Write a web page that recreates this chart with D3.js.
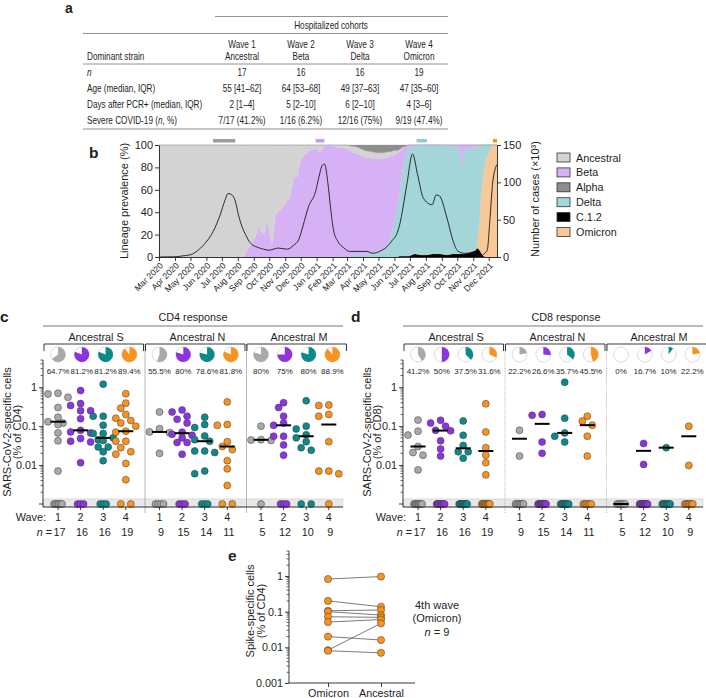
<!DOCTYPE html>
<html><head><meta charset="utf-8">
<script src="https://cdn.jsdelivr.net/npm/d3@7/dist/d3.min.js"></script>
<style>
html,body{margin:0;padding:0;background:#fff;}
text{font-family:"Liberation Sans",Arial,Helvetica,sans-serif;fill:#1e1e1e;}
</style></head><body>
<svg id="fig" width="706" height="698" xmlns="http://www.w3.org/2000/svg"></svg>
<script>
// ======================= DATA =======================
// ---- Panel a (table) ----
const tableColTop = ["Wave 1","Wave 2","Wave 3","Wave 4"];
const tableColBottom = ["Ancestral","Beta","Delta","Omicron"];
const rowN = ["17","16","16","19"];
const rowAge = ["55 [41–62]","64 [53–68]","49 [37–63]","47 [35–60]"];
const rowDays = ["2 [1–4]","5 [2–10]","6 [2–10]","4 [3–6]"];
const rowSevere = ["7/17 (41.2%)","1/16 (6.2%)","12/16 (75%)","9/19 (47.4%)"];

// ---- Panel b (lineage prevalence, %) ----
const prevDates = ["2020-03-01","2020-08-12","2020-08-19","2020-08-29","2020-09-06","2020-09-10","2020-09-16","2020-09-22","2020-09-27","2020-10-03",
"2020-10-07","2020-10-13","2020-10-22","2020-11-01","2020-11-11","2020-11-17","2020-11-25","2020-12-01","2020-12-10","2020-12-19",
"2020-12-30","2021-01-07","2021-01-15","2021-01-28","2021-02-11","2021-02-26","2021-03-10","2021-03-22","2021-04-04","2021-04-18",
"2021-04-30","2021-05-11","2021-05-19","2021-05-24","2021-05-30","2021-06-05","2021-06-11","2021-06-17","2021-06-23","2021-06-29",
"2021-07-10","2021-07-22","2021-08-03","2021-08-15","2021-08-28","2021-09-11","2021-09-23","2021-10-02","2021-10-08","2021-10-11",
"2021-10-14","2021-10-22","2021-10-29","2021-11-05","2021-11-08","2021-11-12","2021-11-16","2021-11-20","2021-11-26","2021-12-03",
"2021-12-11","2021-12-17"];
const pctAncestral = [100,100,94,87,80,73,78,80,67,82, 88,62,58,53,45,30,28,13,8,5, 3,7,1,0,2,3,5,6,6,6, 5,5,5,4,4,3,2,1,0,0, 0,0,0,0,0,0,0,0,0,0, 0,0,0,0,0,0,0,0,0,0, 0,0];
const pctBeta =      [0,0,6,13,20,27,22,20,33,18, 12,38,42,47,55,70,72,87,92,95, 97,93,99,100,98,97,93,90,87,85, 84,81,77,72,63,51,35,19,8,2, 1,0,0,0,0,1,1,2,7,20, 5,3,3,2,1,0,0,0,0,0, 0,0];
const pctAlpha =     [0,0,0,0,0,0,0,0,0,0, 0,0,0,0,0,0,0,0,0,0, 0,0,0,0,0,0,1,2,5,6, 7,7,6,6,5,5,4,2,1,0, 0,0,0,0,0,0,0,0,0,0, 0,0,0,0,0,0,0,0,0,0, 0,0];
const pctDelta =     [0,0,0,0,0,0,0,0,0,0, 0,0,0,0,0,0,0,0,0,0, 0,0,0,0,0,0,1,2,2,3, 4,7,12,18,28,41,58,77,90,97, 96,98,98,97,97,97,96,95,90,77, 92,93,92,92,91,73,46,27,12,4, 0,0];
const pctC12 =       [0,0,0,0,0,0,0,0,0,0, 0,0,0,0,0,0,0,0,0,0, 0,0,0,0,0,0,0,0,0,0, 0,0,0,0,0,0,1,1,1,1, 3,2,2,3,3,2,3,3,3,3, 3,4,5,6,8,7,4,1,0,0, 0,0];
const pctOmicron =   [0,0,0,0,0,0,0,0,0,0, 0,0,0,0,0,0,0,0,0,0, 0,0,0,0,0,0,0,0,0,0, 0,0,0,0,0,0,0,0,0,0, 0,0,0,0,0,0,0,0,0,0, 0,0,0,0,0,20,50,72,88,96, 100,100];

// weekly cases (x 10^3)
const caseDates = ["2020-03-01","2020-04-01","2020-04-16","2020-05-01","2020-05-13","2020-05-29","2020-06-14","2020-06-28","2020-07-07","2020-07-13",
"2020-07-21","2020-07-27","2020-08-02","2020-08-10","2020-08-16","2020-08-25","2020-09-08","2020-09-20","2020-09-30","2020-10-09",
"2020-10-18","2020-11-05","2020-11-17","2020-11-27","2020-12-06","2020-12-16","2020-12-30","2021-01-05","2021-01-12","2021-01-16",
"2021-01-24","2021-01-28","2021-02-03","2021-02-11","2021-02-23","2021-03-06","2021-04-08","2021-04-20","2021-05-03","2021-05-17",
"2021-05-28","2021-06-05","2021-06-11","2021-06-25","2021-07-06","2021-07-16","2021-07-27","2021-08-13","2021-08-21","2021-08-27",
"2021-09-11","2021-09-23","2021-10-02","2021-10-15","2021-10-29","2021-11-14","2021-11-28","2021-12-03","2021-12-09","2021-12-17"];
const casesK = [0,0.3,1.5,3,7.5,18,34,57,76,85, 83,75,57,39,30,19,13,10.5,9,10.5, 12,10.5,15.6,23,43,67,88,106,123,124.5, 92,66,35,21,12,7.5,7.5,5,7.5,13.5, 22.5,30,43,97,138,110,79,70,83,82, 52,21,8,5,5,1.5,9,48,102,124];

const lineageNames = ["Ancestral","Beta","Alpha","Delta","C.1.2","Omicron"];
const lineageColors = ["#d3d3d3","#d7b1f6","#8e8e8e","#a3d5d9","#000000","#f9c897"];
const stackOrder = ["C.1.2","Omicron","Delta","Beta","Ancestral","Alpha"];

// sampling windows (bars above the chart)
const sampleStart = ["2020-06-14","2020-12-30","2021-07-14","2021-12-09"];
const sampleEnd   = ["2020-07-27","2021-01-16","2021-08-03","2021-12-17"];
const sampleColors = ["#9c9c9c","#c99df3","#92cdd1","#f7931e"];

// ---- Panels c & d ----
const respGroups = ["Ancestral S","Ancestral N","Ancestral M"];
const waveNums = ["1","2","3","4"];
const waveColors = ["#a9a9a9","#8d34e0","#0b8a8a","#f7931e"];
const cohortN = [[17,16,16,19],[9,15,14,11],[5,12,10,9]];
const cd4PctLabels = [["64.7%","81.2%","81.2%","89.4%"],["55.5%","80%","78.6%","81.8%"],["80%","75%","80%","88.9%"]];
const cd8PctLabels = [["41.2%","50%","37.5%","31.6%"],["22.2%","26.6%","35.7%","45.5%"],["0%","16.7%","10%","22.2%"]];

const cd4S = [[0.70,0.67,0.55,0.30,0.17,0.13,0.12,0.11,0.067,0.042,0.007],
              [0.82,0.38,0.34,0.25,0.25,0.155,0.078,0.071,0.067,0.048,0.041,0.039,0.0115],
              [1.2,0.18,0.18,0.106,0.065,0.065,0.05,0.045,0.043,0.029,0.029,0.022,0.013],
              [0.68,0.39,0.29,0.20,0.16,0.14,0.12,0.10,0.074,0.07,0.041,0.041,0.028,0.022,0.019,0.011,0.0042]];
const cd4N = [[0.23,0.086,0.071,0.068,0.02],
              [0.26,0.23,0.18,0.15,0.12,0.07,0.062,0.058,0.05,0.038,0.038,0.019],
              [0.17,0.11,0.092,0.056,0.045,0.041,0.023,0.023,0.021,0.007,0.006],
              [0.42,0.11,0.105,0.04,0.03,0.025,0.013,0.008,0.003]];
const cd4M = [[0.1,0.045,0.044,0.043],
              [0.40,0.30,0.18,0.12,0.105,0.055,0.055,0.033,0.018],
              [0.45,0.1,0.085,0.06,0.05,0.04,0.028,0.024],
              [0.35,0.34,0.2,0.18,0.04,0.007,0.007,0.006]];
const cd4Zeros = [[6,3,3,2],[4,3,3,2],[1,3,2,1]];

const cd8S = [[0.143,0.074,0.059,0.030,0.021,0.018,0.0075],
              [0.141,0.12,0.10,0.078,0.076,0.042,0.026,0.017],
              [0.136,0.058,0.032,0.022,0.022,0.015],
              [0.375,0.071,0.028,0.018,0.0115,0.0056]];
const cd8N = [[0.078,0.017],
              [0.2,0.19,0.039,0.02],
              [1.34,0.16,0.067,0.055,0.039],
              [0.18,0.135,0.106,0.055,0.017]];
const cd8M = [[],
              [0.036,0.0104],
              [0.028],
              [0.1,0.0098]];
const cd8Zeros = [[10,8,10,13],[7,11,9,6],[5,10,9,7]];
const zeroLevel = 0.001;

// ---- Panel e ----
const pairLabels = ["Omicron","Ancestral"];
const spikeOmicron   = [0.82,0.20,0.106,0.10,0.072,0.051,0.020,0.0083,0.0080];
const spikeAncestral = [0.96,0.137,0.111,0.08,0.069,0.06,0.016,0.047,0.0070];

// ======================= DRAW =======================
const svg = d3.select("#fig");
svg.append("rect").attr("width",706).attr("height",698).attr("fill","#fff");
const parse = d3.utcParse("%Y-%m-%d");

function panelLabel(t,x,y,fs){
  svg.append("text").attr("x",x).attr("y",y).attr("font-size",fs||15.5).attr("font-weight","bold").text(t);
}
panelLabel("a",65,13,14);
panelLabel("b",89,158);
panelLabel("c",0,322);
panelLabel("d",351,322);
panelLabel("e",228,561);

// ---------- Panel a ----------
(function(){
  const g = svg.append("g");
  const colX = d3.scalePoint().domain(d3.range(4)).range([242,419]);
  const cond = 0.78, fs = 10.5;
  function ctext(str, x, y, anchor){
    return g.append("text").attr("transform",`translate(${x},${y}) scale(${cond},1)`)
      .attr("text-anchor",anchor||"middle").attr("font-size",fs).text(str);
  }
  const hl = (x1,x2,y)=>g.append("line").attr("x1",x1).attr("x2",x2).attr("y1",y).attr("y2",y).attr("stroke","#777").attr("stroke-width",0.8);
  hl(215,448,16.5); hl(83,448,33.5); hl(83,448,64); hl(83,448,129);
  ctext("Hospitalized cohorts",331,29);
  ctext("Dominant strain",87,60,"start");
  tableColTop.forEach((t,i)=>ctext(t,colX(i),48));
  tableColBottom.forEach((t,i)=>ctext(t,colX(i),60));
  const rowsY = [76,92,108,124];
  ctext("",87,rowsY[0],"start").append("tspan").attr("font-style","italic").text("n");
  ctext("Age (median, IQR)",87,rowsY[1],"start");
  ctext("Days after PCR+ (median, IQR)",87,rowsY[2],"start");
  const sv = ctext("Severe COVID-19 (",87,rowsY[3],"start");
  sv.append("tspan").attr("font-style","italic").text("n");
  sv.append("tspan").text(", %)");
  [rowN,rowAge,rowDays,rowSevere].forEach((row,r)=>row.forEach((t,i)=>ctext(t,colX(i),rowsY[r])));
})();

// ---------- Panel b ----------
(function(){
  const g = svg.append("g");
  const x = d3.scaleUtc().domain([parse("2020-03-01"),parse("2021-12-17")]).range([159,497]);
  const y = d3.scaleLinear().domain([0,100]).range([257,145]);
  const y2 = d3.scaleLinear().domain([0,150]).range([257,145]);
  const colorOf = d3.scaleOrdinal().domain(lineageNames).range(lineageColors);
  const rows = prevDates.map((d,i)=>({date:parse(d),"Ancestral":pctAncestral[i],"Beta":pctBeta[i],"Alpha":pctAlpha[i],"Delta":pctDelta[i],"C.1.2":pctC12[i],"Omicron":pctOmicron[i]}));
  const series = d3.stack().keys(stackOrder)(rows);
  const area = d3.area().x(d=>x(d.data.date)).y0(d=>y(d[0])).y1(d=>y(d[1]));
  g.selectAll("path.layer").data(series).join("path").attr("class","layer")
    .attr("d",area).attr("fill",d=>colorOf(d.key)).attr("stroke",d=>colorOf(d.key)).attr("stroke-width",0.3);
  const cases = caseDates.map((d,i)=>({date:parse(d),v:casesK[i]}));
  g.append("path").datum(cases).attr("fill","none").attr("stroke","#1a1a1a").attr("stroke-width",0.9)
    .attr("d",d3.line().x(d=>x(d.date)).y(d=>y2(d.v)).curve(d3.curveMonotoneX));
  sampleStart.forEach((s,i)=>{
    g.append("rect").attr("x",x(parse(s))).attr("y",139).attr("width",x(parse(sampleEnd[i]))-x(parse(s))).attr("height",3.5).attr("fill",sampleColors[i]);
  });
  const styleAxis = (sel,fs)=>{sel.selectAll("path,line").attr("stroke","#222").attr("stroke-width",0.9);
    sel.selectAll("text").attr("font-size",fs).attr("fill","#1e1e1e").attr("font-family",null);};
  const ax = g.append("g").attr("transform","translate(159,0)")
    .call(d3.axisLeft(y).tickValues([0,20,40,60,80,100]).tickSize(4).tickSizeOuter(0).tickPadding(2));
  styleAxis(ax,11);
  const ar = g.append("g").attr("transform","translate(497,0)")
    .call(d3.axisRight(y2).tickValues([0,50,100,150]).tickSize(4).tickSizeOuter(0).tickPadding(2));
  styleAxis(ar,11);
  const months = d3.utcMonth.range(parse("2020-03-01"),parse("2021-12-02"));
  const ab = g.append("g").attr("transform","translate(0,257)")
    .call(d3.axisBottom(x).tickValues(months).tickFormat(d3.utcFormat("%b %Y")).tickSize(4).tickSizeOuter(0));
  styleAxis(ab,8.6);
  ab.selectAll("text").attr("x",0).attr("y",0).attr("dy","0.35em").attr("text-anchor","end")
    .attr("transform","translate(2,7) rotate(-45)");
  g.append("text").attr("transform","translate(128,201) rotate(-90)").attr("text-anchor","middle").attr("font-size",11).text("Lineage prevalence (%)");
  g.append("text").attr("transform","translate(539,199) rotate(-90)").attr("text-anchor","middle").attr("font-size",11).text("Number of cases (×10³)");
  const lg = g.append("g");
  lineageNames.forEach((n,i)=>{
    const cy = 157.5 + i*14.9;
    lg.append("rect").attr("x",557).attr("y",cy-4.5).attr("width",13).attr("height",9).attr("fill",lineageColors[i]).attr("stroke","#333").attr("stroke-width",0.8);
    lg.append("text").attr("x",576).attr("y",cy+4).attr("font-size",10.8).text(n);
  });
})();

// ---------- Panels c & d ----------
function swarm(vals, y, cx){
  const sorted = vals.slice().sort((a,b)=>b-a);
  const placed = [];
  const cands = [0,-5,5,-10,10,-7.5,7.5];
  sorted.forEach(v=>{
    const py = y(v);
    let done = false;
    for(const o of cands){
      if(placed.every(p=>Math.hypot(p.x-(cx+o),p.y-py)>=6.8)){placed.push({x:cx+o,y:py,v});done=true;break;}
    }
    if(!done) placed.push({x:cx,y:py,v});
  });
  return placed;
}
function drawResp(o){
  const g = svg.append("g");
  const y = d3.scaleLog().domain([zeroLevel,5]).range([504,360]);
  const axBottom = 507;
  const wx = (gi,w)=> o.ax + 15 + gi*101.5 + w*22.6;
  const px = (gi,w)=> o.ax + 15 + gi*101.5 + w*23.8;
  g.append("text").attr("x",o.titleX).attr("y",321).attr("text-anchor","middle").attr("font-size",10.8).text(o.title);
  g.append("line").attr("x1",o.ax).attr("x2",o.ax+300).attr("y1",326).attr("y2",326).attr("stroke","#555").attr("stroke-width",0.8);
  g.append("rect").attr("x",o.ax).attr("y",y(0.00135)).attr("width",300).attr("height",axBottom-y(0.00135))
    .attr("fill","#e8e8e8").attr("stroke","#c8c8c8").attr("stroke-width",0.5);
  [1,2].forEach(gi=>{
    g.append("line").attr("x1",o.ax+gi*101.5+0.5).attr("x2",o.ax+gi*101.5+0.5).attr("y1",344).attr("y2",513)
      .attr("stroke","#999").attr("stroke-width",0.7).attr("stroke-dasharray",o.dash);
  });
  const arc = d3.arc().innerRadius(0).outerRadius(7.5);
  respGroups.forEach((gn,gi)=>{
    const x0 = o.ax + gi*101.5 + 1, x1 = o.ax + (gi+1)*101.5 - 1;
    g.append("path").attr("d",`M${x0},351V344H${x1}V351`).attr("fill","none").attr("stroke","#222").attr("stroke-width",0.9);
    g.append("text").attr("x",o.ax+53+gi*101.5).attr("y",340.5).attr("text-anchor","middle").attr("font-size",10.8).text(gn);
    for(let w=0;w<4;w++){
      const cx = px(gi,w);
      const frac = parseFloat(o.pct[gi][w])/100;
      g.append("circle").attr("cx",cx).attr("cy",354.5).attr("r",7.5).attr("fill","#fff").attr("stroke","#c4c4c4").attr("stroke-width",0.6);
      if(frac>0) g.append("path").attr("transform",`translate(${cx},354.5)`).attr("d",arc({startAngle:0,endAngle:2*Math.PI*frac})).attr("fill",waveColors[w]);
      g.append("text").attr("x",cx).attr("y",374).attr("text-anchor","middle").attr("font-size",8).text(o.pct[gi][w]);
      const xc = wx(gi,w);
      const vals = o.data[gi][w];
      const pts = swarm(vals,y,xc);
      g.selectAll(null).data(pts).join("circle").attr("cx",d=>d.x).attr("cy",d=>d.y).attr("r",3.5)
        .attr("fill",waveColors[w]).attr("stroke","#3a3a3a").attr("stroke-width",0.5);
      const nz = o.zeros[gi][w];
      const spread = nz<=1?0:(nz===2?10:Math.min(8,3*(nz-1)));
      const zx = d3.range(nz).map(i=> nz<=1 ? xc : xc - spread/2 + i*spread/(nz-1));
      g.selectAll(null).data(zx).join("circle").attr("cx",d=>d).attr("cy",y(zeroLevel)).attr("r",3.5)
        .attr("fill",waveColors[w]).attr("stroke","#3a3a3a").attr("stroke-width",0.5);
      const med = vals.length ? d3.median(vals) : zeroLevel;
      g.append("line").attr("x1",xc-7.5).attr("x2",xc+7.5).attr("y1",y(med)).attr("y2",y(med)).attr("stroke","#000").attr("stroke-width",2);
      g.append("line").attr("x1",xc).attr("x2",xc).attr("y1",axBottom).attr("y2",axBottom+3).attr("stroke","#222").attr("stroke-width",0.9);
      g.append("text").attr("x",xc).attr("y",521).attr("text-anchor","middle").attr("font-size",10.8).text(waveNums[w]);
      g.append("text").attr("x",xc+1.5).attr("y",535.5).attr("text-anchor","middle").attr("font-size",10.8).text(cohortN[gi][w]);
    }
  });
  const ya = g.append("g").attr("transform",`translate(${o.ax},0)`)
    .call(d3.axisLeft(y).tickValues([1,0.1,0.01]).tickFormat(d=>String(d)).tickSize(4).tickSizeOuter(0).tickPadding(2));
  ya.select(".domain").remove();
  ya.selectAll("line").attr("stroke","#222").attr("stroke-width",0.9);
  ya.selectAll("text").attr("font-size",10.8).attr("fill","#1e1e1e").attr("font-family",null);
  const minors = [];
  [0.001,0.01,0.1,1].forEach(b=>[2,3,4,5,6,7,8,9].forEach(m=>{const v=b*m; if(v<=5) minors.push(v);}));
  g.selectAll(null).data(minors).join("line").attr("x1",o.ax-2.5).attr("x2",o.ax).attr("y1",d=>y(d)).attr("y2",d=>y(d)).attr("stroke","#222").attr("stroke-width",0.7);
  g.append("line").attr("x1",o.ax-4).attr("x2",o.ax).attr("y1",y(zeroLevel)).attr("y2",y(zeroLevel)).attr("stroke","#222").attr("stroke-width",0.9);
  g.append("line").attr("x1",o.ax).attr("x2",o.ax).attr("y1",y(5)).attr("y2",axBottom).attr("stroke","#222").attr("stroke-width",0.9);
  g.append("line").attr("x1",o.ax).attr("x2",o.ax+300).attr("y1",axBottom).attr("y2",axBottom).attr("stroke","#222").attr("stroke-width",0.9);
  g.append("text").attr("transform",`translate(${o.ax-32},432) rotate(-90)`).attr("text-anchor","middle").attr("font-size",11).text("SARS-CoV-2-specific cells");
  g.append("text").attr("transform",`translate(${o.ax-22},432) rotate(-90)`).attr("text-anchor","middle").attr("font-size",11).text(o.ylab2);
  g.append("text").attr("x",wx(0,0)-12).attr("y",521).attr("text-anchor","end").attr("font-size",10.8).text("Wave:");
  const nt = g.append("text").attr("x",wx(0,0)-6).attr("y",535.5).attr("text-anchor","end").attr("font-size",10.8);
  nt.append("tspan").attr("font-style","italic").text("n");
  nt.append("tspan").text(" =");
}
drawResp({ax:43,title:"CD4 response",titleX:193,ylab2:"(% of CD4)",pct:cd4PctLabels,data:[cd4S,cd4N,cd4M],zeros:cd4Zeros,dash:null});
drawResp({ax:403,title:"CD8 response",titleX:566,ylab2:"(% of CD8)",pct:cd8PctLabels,data:[cd8S,cd8N,cd8M],zeros:cd8Zeros,dash:"1.2,1.2"});

// ---------- Panel e ----------
(function(){
  const g = svg.append("g");
  const y = d3.scaleLog().domain([0.001,5]).range([683,551]);
  const x = d3.scalePoint().domain(pairLabels).range([328,381]);
  const ya = g.append("g").attr("transform","translate(289,0)")
    .call(d3.axisLeft(y).tickValues([1,0.1,0.01,0.001]).tickFormat(d=>String(d)).tickSize(4).tickSizeOuter(0).tickPadding(2));
  ya.select(".domain").remove();
  ya.selectAll("line").attr("stroke","#222").attr("stroke-width",0.9);
  ya.selectAll("text").attr("font-size",10.8).attr("fill","#1e1e1e").attr("font-family",null);
  const minors = [];
  [0.001,0.01,0.1,1].forEach(b=>[2,3,4,5,6,7,8,9].forEach(m=>{const v=b*m; if(v<=5) minors.push(v);}));
  g.selectAll(null).data(minors).join("line").attr("x1",286.5).attr("x2",289).attr("y1",d=>y(d)).attr("y2",d=>y(d)).attr("stroke","#222").attr("stroke-width",0.7);
  g.append("line").attr("x1",289).attr("x2",289).attr("y1",y(5)).attr("y2",683).attr("stroke","#222").attr("stroke-width",0.9);
  const xa = g.append("g").attr("transform","translate(0,683)")
    .call(d3.axisBottom(x).tickSize(4).tickSizeOuter(0).tickPadding(2));
  xa.select(".domain").remove();
  xa.selectAll("line").attr("stroke","#222").attr("stroke-width",0.9);
  xa.selectAll("text").attr("font-size",10.8).attr("fill","#1e1e1e").attr("font-family",null);
  g.append("line").attr("x1",289).attr("x2",415).attr("y1",683).attr("y2",683).attr("stroke","#222").attr("stroke-width",0.9);
  spikeOmicron.forEach((v,i)=>{
    g.append("line").attr("x1",x("Omicron")).attr("x2",x("Ancestral")).attr("y1",y(v)).attr("y2",y(spikeAncestral[i]))
      .attr("stroke","#444").attr("stroke-width",0.7);
  });
  spikeOmicron.forEach((v,i)=>{
    g.append("circle").attr("cx",x("Omicron")).attr("cy",y(v)).attr("r",3.6).attr("fill","#f7931e").attr("stroke","#3a3a3a").attr("stroke-width",0.5);
    g.append("circle").attr("cx",x("Ancestral")).attr("cy",y(spikeAncestral[i])).attr("r",3.6).attr("fill","#f7931e").attr("stroke","#3a3a3a").attr("stroke-width",0.5);
  });
  g.append("text").attr("transform","translate(254,611) rotate(-90)").attr("text-anchor","middle").attr("font-size",11).text("Spike-specific cells");
  g.append("text").attr("transform","translate(265,611) rotate(-90)").attr("text-anchor","middle").attr("font-size",11).text("(% of CD4)");
  g.append("text").attr("x",437).attr("y",609).attr("text-anchor","middle").attr("font-size",11).text("4th wave");
  g.append("text").attr("x",437).attr("y",622).attr("text-anchor","middle").attr("font-size",11).text("(Omicron)");
  const nt = g.append("text").attr("x",437).attr("y",636).attr("text-anchor","middle").attr("font-size",11);
  nt.append("tspan").attr("font-style","italic").text("n");
  nt.append("tspan").text(" = 9");
})();
</script>
</body></html>
